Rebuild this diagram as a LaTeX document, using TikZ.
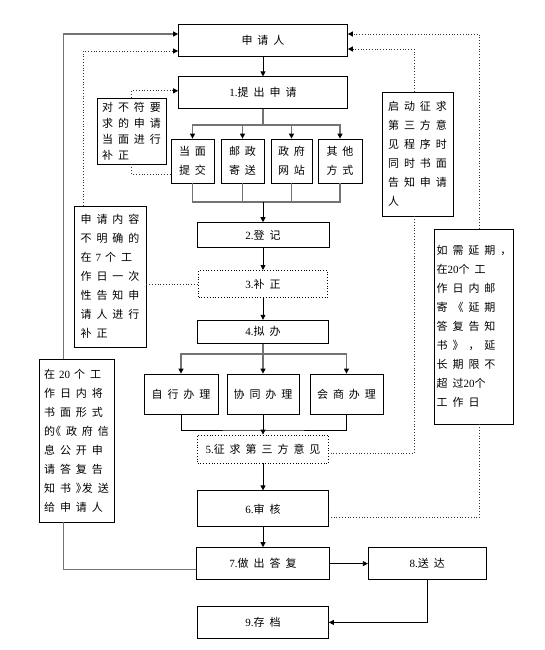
\documentclass[tikz,border=0pt]{standalone}
\usepackage{fontspec}
\newfontfamily\cjk[LetterSpace=45]{Noto Sans CJK SC}
\newfontfamily\latf{Liberation Serif}
\newcommand{\latn}[1]{{\latf #1}}
\usetikzlibrary{arrows.meta, positioning}

\begin{document}
\begin{tikzpicture}[
    x=1pt, y=-1pt,
    box/.style={draw, line width=0.8pt, inner sep=2pt, font=\cjk\fontsize{11}{19}\selectfont},
    dbox/.style={box, dotted},
    note/.style={box, align=left},
    arr/.style={-{Triangle[length=5pt,width=5pt]}, line width=0.8pt},
    gline/.style={draw=black!55, line width=1.2pt},
    garr/.style={gline, -{Triangle[length=5pt,width=5pt,color=black]}},
    dline/.style={dotted, draw=black!80, line width=0.8pt},
    darr/.style={dline, -{Triangle[length=5pt,width=5pt,color=black]}}
]
\useasboundingbox (0,0) rectangle (544,650);

% main column
\node[box, minimum width=169pt, minimum height=32pt] (app) at (263,40) {申请人};
\node[box, minimum width=169pt, minimum height=32pt] (p1) [below=20pt of app] {\latn{1.}提出申请};
\node[box, minimum width=132pt, minimum height=25pt] (p2) [below=113pt of p1] {\latn{2.}登记};
\node[dbox, minimum width=129pt, minimum height=27pt] (p3) [below=22pt of p2] {\latn{3.}补正};
\node[box, minimum width=131pt, minimum height=23pt] (p4) [below=22pt of p3] {\latn{4.}拟办};
\node[dbox, minimum width=131pt, minimum height=28pt] (p5) [below=91pt of p4] {\latn{5.}征求第三方意见};
\node[box, minimum width=131pt, minimum height=36pt] (p6) [below=27pt of p5] {\latn{6.}审核};
\node[box, minimum width=133pt, minimum height=32pt] (p7) [below=20pt of p6] {\latn{7.}做出答复};
\node[box, minimum width=118pt, minimum height=32pt] (p8) [right=38pt of p7] {\latn{8.}送达};
\node[box, minimum width=131pt, minimum height=32pt] (p9) [below=26pt of p7] {\latn{9.}存档};

% ways of applying
\node[box, align=center, minimum width=43pt, minimum height=44pt] (m1) at (192.5,161) {当面\\提交};
\node[box, align=center, minimum width=43pt, minimum height=44pt] (m2) at (242.5,161) {邮政\\寄送};
\node[box, align=center, minimum width=41pt, minimum height=44pt] (m3) at (291.5,161) {政府\\网站};
\node[box, align=center, minimum width=44pt, minimum height=44pt] (m4) at (340,161) {其他\\方式};

% ways of handling
\node[box, minimum width=74pt, minimum height=40pt] (h1) at (181,394) {自行办理};
\node[box, minimum width=72pt, minimum height=40pt] (h2) at (263,394) {协同办理};
\node[box, minimum width=73pt, minimum height=40pt] (h3) at (346.5,394) {会商办理};

% side notes
\node[note, minimum width=69pt, minimum height=66pt, font=\cjk\fontsize{11}{16}\selectfont] (nA) at (131.5,131)
    {对不符要\\求的申请\\当面进行\\补正};
\node[note, minimum width=72pt, minimum height=141pt] (nB) at (110,276.5)
    {申请内容\\不明确的\\在\hspace{4pt}\latn{7}\hspace{4pt}个工\\作日一次\\性告知申\\请人进行\\补正};
\node[note, minimum width=75pt, minimum height=163pt] (nC) at (76.5,440.5)
    {在\hspace{4pt}\latn{20}\hspace{4pt}个工\\作日内将\\书面形式\\的\hspace{-5pt}《政府信\\息公开申\\请答复告\\知书》\hspace{-5pt}发送\\给申请人};
\node[note, minimum width=71pt, minimum height=124pt] (nD) at (417.5,154)
    {启动征求\\第三方意\\见程序时\\同时书面\\告知申请\\人};
\node[note, minimum width=74pt, minimum height=195pt] (nE) at (474,326.5)
    {如需延期，\\在\latn{20}个工\\作日内邮\\寄《延期\\答复告知\\书》，延\\长期限不\\超过\latn{20}个\\工作日};

\coordinate (j1) at (263,125);
\coordinate (j2) at (263,202);
\coordinate (j3) at (263,354);
\coordinate (j4) at (263,430);

% flow
\draw[arr] (app) -- (p1);
\draw[gline] (p1) -- (j1);
\foreach \m in {m1,m2,m3,m4}
    \draw[garr] (j1) -| (\m);
\foreach \m in {m1,m2,m3,m4}
    \draw[gline] (\m) |- (j2);
\draw[arr] (j2) -- (p2);
\draw[arr] (p2) -- (p3);
\draw[arr] (p3) -- (p4);
\draw[gline] (p4) -- (j3);
\foreach \h in {h1,h2,h3}
    \draw[garr] (j3) -| (\h);
\draw[line width=0.8pt] (h1) |- (j4) -| (h3);
\draw[arr] (h2) -- (p5);
\draw[arr] (p5) -- (p6);
\draw[arr] (p6) -- (p7);
\draw[arr] (p7) -- (p8);
\draw[arr] (p8) |- (p9);

% notes to boxes
\draw[darr] (nA.north) |- ([yshift=2pt]p1.west);
\draw[dline] (nA.south) |- ([yshift=-13pt]m1.west);
\draw[darr] ([xshift=-27pt]nB.north) |- ([yshift=-11pt]app.west);
\draw[dline] (nB.east |- p3) -- (p3);
\draw[garr] ([xshift=-13pt]nC.north) |- ([yshift=6pt]app.west);
\draw[gline] ([xshift=-13pt]nC.south) |- ([yshift=-6pt]p7.west);
\draw[darr] ([xshift=-3.5pt]nD.north) |- ([yshift=-9pt]app.east);
\draw[dline] ([xshift=-3.5pt]nD.south) |- ([yshift=-4pt]p5.east);
\draw[darr] ([xshift=5pt]nE.north) |- ([yshift=6pt]app.east);
\draw[dline] ([xshift=5pt]nE.south) |- ([yshift=-9pt]p6.east);

\end{tikzpicture}
\end{document}
